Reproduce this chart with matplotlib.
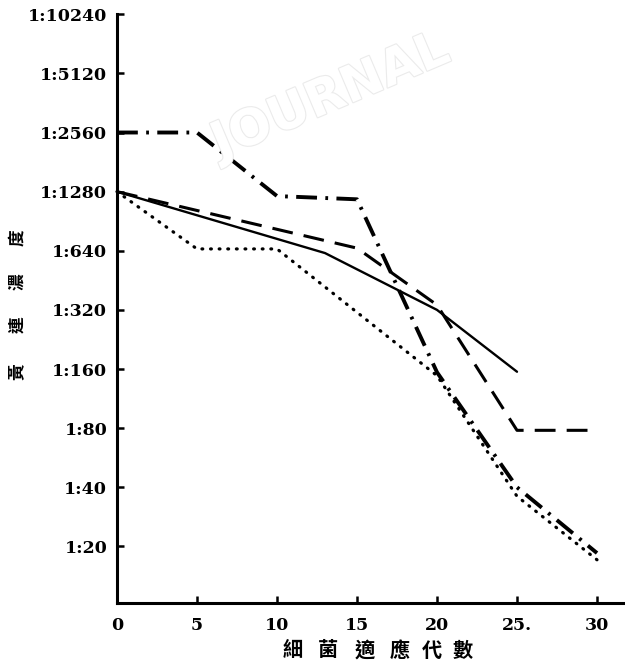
import matplotlib
matplotlib.use("Agg")
import matplotlib.pyplot as plt
import matplotlib.patheffects as pe
from matplotlib.ticker import FixedLocator, FixedFormatter, NullLocator

plt.rcParams['lines.scale_dashes'] = False

# ---- data ----
y_ticks = [20, 40, 80, 160, 320, 640, 1280, 2560, 5120, 10240]
y_ticklabels = ["1:20", "1:40", "1:80", "1:160", "1:320", "1:640",
                "1:1280", "1:2560", "1:5120", "1:10240"]
x_ticks = [0, 5, 10, 15, 20, 25, 30]
x_ticklabels = ["0", "5", "10", "15", "20", "25.", "30"]

solid_x = [0, 13, 20, 25]
solid_y = [1280, 623, 320, 155]

dashed_x = [0, 15, 20, 25, 30]
dashed_y = [1280, 660, 339, 78, 78]

dotted_x = [0, 5, 10, 20, 25, 30]
dotted_y = [1280, 654, 654, 148, 36, 17.1]

dashdot_x = [0, 5, 10, 15, 20, 25, 30]
dashdot_y = [2560, 2560, 1215, 1170, 154, 40, 18.5]

x_label_chars = ["細", "菌", "適", "應", "代", "數"]
y_label_chars = ["黃", "連", "濃", "度"]

# ---- figure ----
W, H = 625, 665
fig = plt.figure(figsize=(W / 100, H / 100), dpi=100)
fig.patch.set_facecolor("white")

# faint watermark
fig.text(205 / W, 1 - 168 / H, "JOURNAL", rotation=23, fontsize=36,
         color="white", family="DejaVu Sans", fontweight="bold",
         ha="left", va="bottom", zorder=0,
         path_effects=[pe.withStroke(linewidth=1.6, foreground="#ebebeb")])

ax = fig.add_axes([117 / W, 1 - 603 / H, (W - 117) / W, (603 - 14) / H])
ax.patch.set_alpha(0)
ax.set_yscale("log", base=2)
ax.set_ylim(20 * 2 ** (-56.6 / 59.15), 20 * 2 ** (532.6 / 59.15))
ax.set_xlim(0, (W - 117) / 16.0)

for s in ["top", "right"]:
    ax.spines[s].set_visible(False)
for s in ["left", "bottom"]:
    ax.spines[s].set_linewidth(2.2)
    ax.spines[s].set_color("black")

ax.yaxis.set_major_locator(FixedLocator(y_ticks))
ax.yaxis.set_major_formatter(FixedFormatter(y_ticklabels))
ax.yaxis.set_minor_locator(NullLocator())
ax.xaxis.set_major_locator(FixedLocator(x_ticks))
ax.xaxis.set_major_formatter(FixedFormatter(x_ticklabels))

ax.tick_params(axis="y", direction="in", length=5, width=1.8, pad=7,
               labelsize=12.5)
ax.tick_params(axis="x", direction="in", length=5, width=1.8, pad=10,
               labelsize=12.5)
for lab in ax.get_xticklabels() + ax.get_yticklabels():
    lab.set_family("DejaVu Serif")
    lab.set_fontweight("bold")

ax.plot(solid_x, solid_y, color="black", lw=1.7, ls="-",
        solid_capstyle="round", clip_on=False)
ax.plot(dashed_x, dashed_y, color="black", lw=2.2,
        ls=(0, (15, 8)), clip_on=False)
ax.plot(dotted_x, dotted_y, color="black", lw=2.3,
        ls=(0, (0.6, 5.6)), dash_capstyle="round", clip_on=False)
ax.plot(dashdot_x, dashdot_y, color="black", lw=2.8,
        ls=(0, (15, 6, 2, 6)), clip_on=False)

# axis titles (placed per character)
cjk = ["Noto Sans CJK TC", "DejaVu Sans"]
for ch, px in zip(x_label_chars, [293, 328, 365, 400, 432, 463]):
    fig.text(px / W, 1 - 650 / H, ch, ha="center", va="center",
             fontsize=14.5, family=cjk, fontweight="bold")
for ch, py in zip(y_label_chars, [372, 325, 282, 238]):
    fig.text(17 / W, 1 - py / H, ch, ha="center", va="center",
             rotation=90, fontsize=12, family=cjk, fontweight="bold")

fig.savefig("out.png", dpi=100)
